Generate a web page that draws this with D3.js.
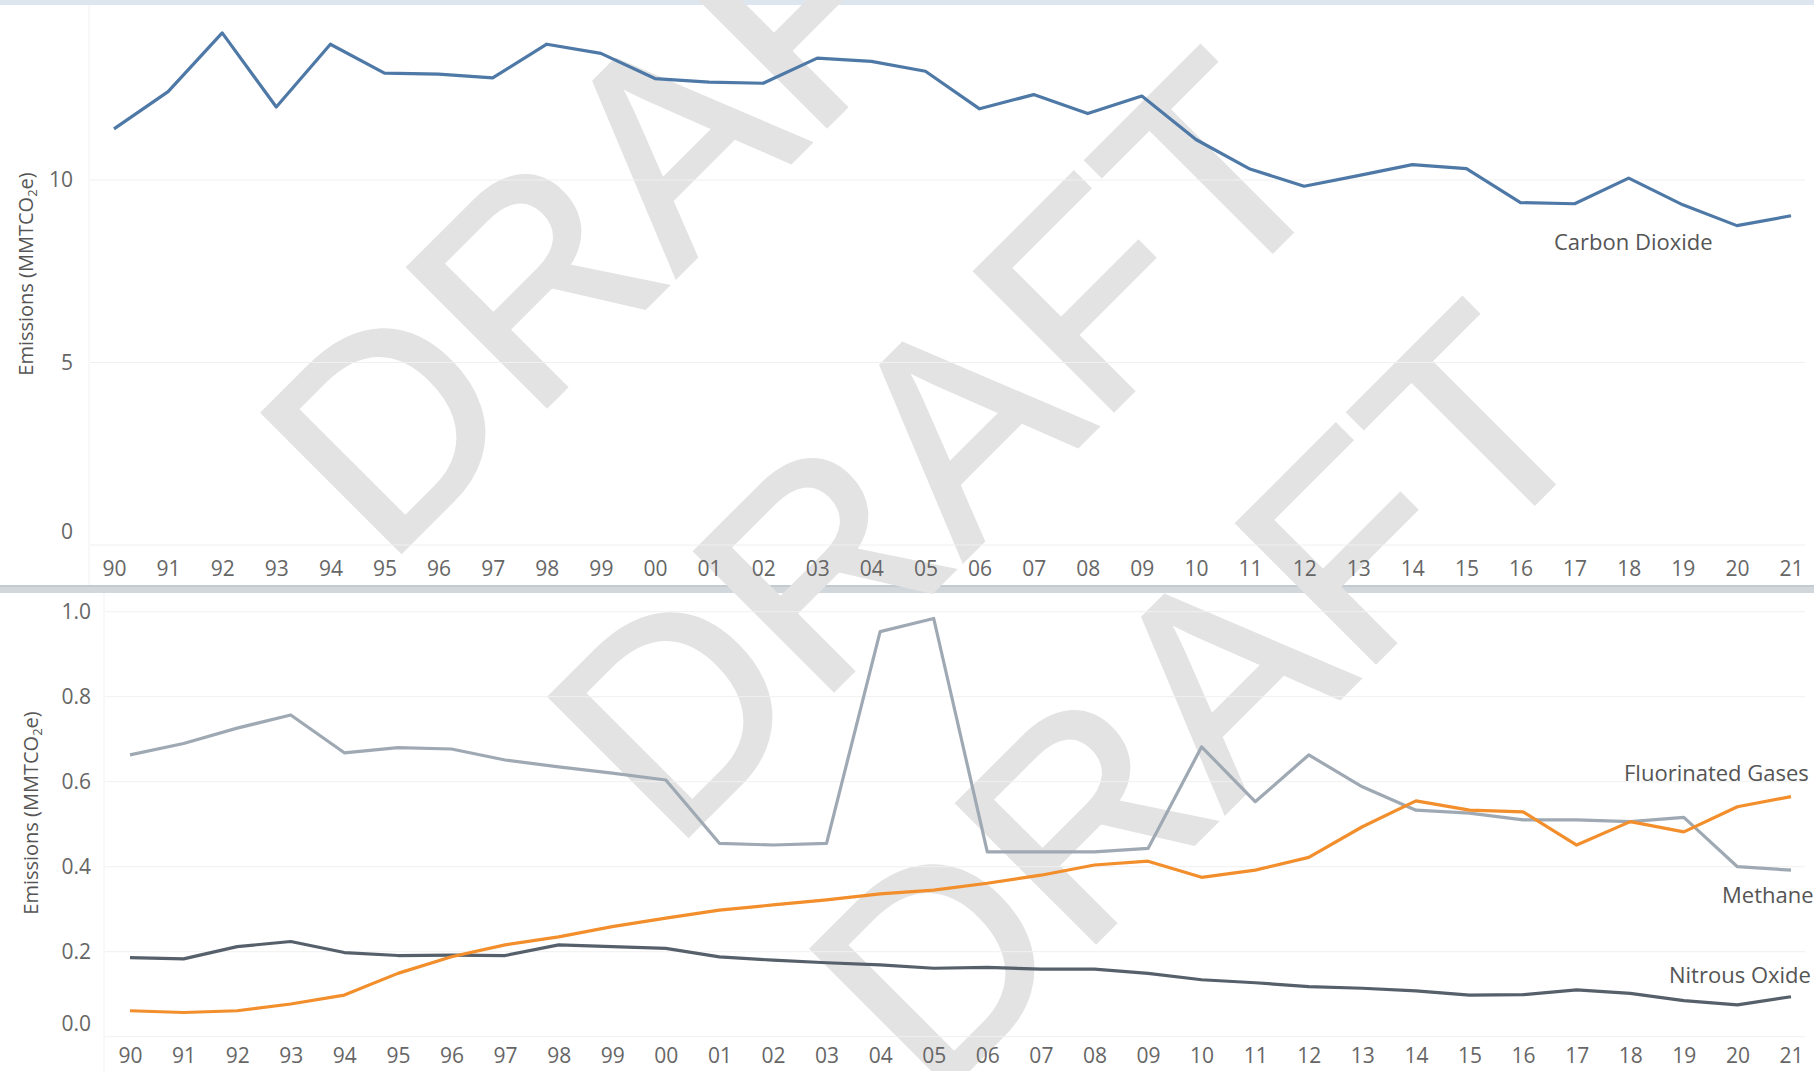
<!DOCTYPE html>
<html>
<head>
<meta charset="utf-8">
<script src="https://cdn.jsdelivr.net/npm/d3@7"></script>
<style>
  body { margin: 0; background: #fff; }
  svg { display: block; font-family: "Open Sans", "Noto Sans", sans-serif; }
</style>
</head>
<body>
<div id="chart"></div>
<script>
// years on the x axis (two digit labels)
const years = ['90','91','92','93','94','95','96','97','98','99','00','01','02','03','04','05',
               '06','07','08','09','10','11','12','13','14','15','16','17','18','19','20','21']

// top panel
const co2 = [11.40,12.42,14.03,12.00,13.72,12.93,12.90,12.80,13.72,13.47,12.78,12.68,12.65,13.34,13.25,12.98,
             11.95,12.34,11.82,12.30,11.11,10.30,9.83,10.12,10.42,10.31,9.38,9.35,10.05,9.32,8.75,9.02]
const topTicks = [0, 5, 10]

// bottom panel
const methane = [0.663,0.690,0.726,0.757,0.668,0.680,0.677,0.651,0.635,0.620,0.604,0.455,0.451,0.455,0.953,0.984,
                 0.435,0.435,0.435,0.443,0.682,0.553,0.663,0.588,0.533,0.526,0.510,0.510,0.506,0.516,0.400,0.392]
const fgas = [0.061,0.057,0.061,0.077,0.098,0.149,0.188,0.216,0.235,0.259,0.279,0.298,0.310,0.322,0.336,0.345,
              0.361,0.380,0.404,0.413,0.375,0.392,0.422,0.494,0.555,0.533,0.529,0.451,0.506,0.482,0.541,0.565]
const n2o = [0.186,0.183,0.212,0.224,0.198,0.191,0.192,0.191,0.216,0.212,0.208,0.188,0.180,0.174,0.169,0.161,
             0.163,0.159,0.159,0.149,0.134,0.127,0.118,0.114,0.108,0.098,0.099,0.110,0.102,0.085,0.075,0.094]
const bottomTicks = [0, 0.2, 0.4, 0.6, 0.8, 1.0]

const width = 1814, height = 1071
const tickFont = 21, labelFont = 22

const svg = d3.select("#chart").append("svg")
    .attr("width", width)
    .attr("height", height)

// panel frames
svg.append("rect").attr("x", 0).attr("y", 0).attr("width", width).attr("height", 5).attr("fill", "#dde6ee")
svg.append("rect").attr("x", 0).attr("y", 585).attr("width", width).attr("height", 8).attr("fill", "#d2d7db")
svg.append("rect").attr("x", 0).attr("y", 585).attr("width", width).attr("height", 2).attr("fill", "#c3cad0")
svg.append("line").attr("x1", 89).attr("x2", 89).attr("y1", 5).attr("y2", 585).attr("stroke", "#f1f1f1")
svg.append("line").attr("x1", 104).attr("x2", 104).attr("y1", 593).attr("y2", height).attr("stroke", "#f1f1f1")

// DRAFT watermarks, behind everything else
const wm = svg.append("g")
const wmAnchors = [[385, 568], [672, 852], [934, 1104]]
wm.selectAll("text")
    .data(wmAnchors)
    .join("text")
    .attr("transform", d => `translate(${d[0]},${d[1]}) rotate(-45)`)
    .attr("font-family", "Liberation Sans, Arial, sans-serif")
    .attr("font-size", 285)
    .attr("fill", "#e3e3e3")
    .attr("stroke", "#e3e3e3")
    .attr("stroke-width", 4)
    .text("DRAFT")

function styleAxis(g) {
    g.select(".domain").remove()
    g.selectAll("text").attr("font-size", tickFont).attr("fill", "#666").attr("font-family", "Open Sans, sans-serif")
}

function axisTitle(g, x, y) {
    g.append("text")
        .attr("transform", `translate(${x},${y}) rotate(-90)`)
        .attr("text-anchor", "middle")
        .attr("font-size", 20).attr("fill", "#555")
        .call(t => {
            t.append("tspan").text("Emissions (MMTCO")
            t.append("tspan").attr("font-size", 13).attr("dy", 4).text("2")
            t.append("tspan").attr("dy", -4).text("e)")
        })
}

// ---------- top panel ----------
const xTop = d3.scalePoint().domain(years).range([114, 1791])
const yTop = d3.scaleLinear().domain([0, 10]).range([545, 180])

const gTop = svg.append("g")

gTop.append("g")
    .selectAll("line")
    .data(topTicks)
    .join("line")
    .attr("x1", 90).attr("x2", 1805)
    .attr("y1", d => yTop(d)).attr("y2", d => yTop(d))
    .attr("stroke", "#f0f0f0")

const yAxisTop = gTop.append("g")
    .attr("transform", "translate(73,0)")
    .call(d3.axisLeft(yTop).tickValues(topTicks).tickSize(0).tickPadding(0).tickFormat(d3.format("d")))
styleAxis(yAxisTop)
yAxisTop.selectAll(".tick").filter(d => d === 0).select("text").attr("dy", "-0.3em")

const xAxisTop = gTop.append("g")
    .attr("transform", "translate(0,561)")
    .call(d3.axisBottom(xTop).tickSize(0).tickPadding(0))
styleAxis(xAxisTop)

const lineTop = d3.line().x((d, i) => xTop(years[i])).y(d => yTop(d))
gTop.append("path")
    .datum(co2)
    .attr("d", lineTop)
    .attr("fill", "none")
    .attr("stroke", "#4e79a7")
    .attr("stroke-width", 3.2)
    .attr("stroke-linejoin", "round")

gTop.append("text")
    .attr("x", 1554).attr("y", 250)
    .attr("font-size", labelFont).attr("fill", "#555")
    .text("Carbon Dioxide")

axisTitle(gTop, 33, 274)

// ---------- bottom panel ----------
const xBot = d3.scalePoint().domain(years).range([130, 1791])
const yBot = d3.scaleLinear().domain([0, 1]).range([1036.7, 611.7])

const gBot = svg.append("g")

gBot.append("g")
    .selectAll("line")
    .data(bottomTicks)
    .join("line")
    .attr("x1", 105).attr("x2", 1805)
    .attr("y1", d => yBot(d)).attr("y2", d => yBot(d))
    .attr("stroke", "#f0f0f0")

const yAxisBot = gBot.append("g")
    .attr("transform", "translate(91,0)")
    .call(d3.axisLeft(yBot).tickValues(bottomTicks).tickSize(0).tickPadding(0).tickFormat(d3.format(".1f")))
styleAxis(yAxisBot)
yAxisBot.selectAll(".tick").filter(d => d === 0).select("text").attr("dy", "-0.3em")

const xAxisBot = gBot.append("g")
    .attr("transform", "translate(0,1048)")
    .call(d3.axisBottom(xBot).tickSize(0).tickPadding(0))
styleAxis(xAxisBot)

const lineBot = d3.line().x((d, i) => xBot(years[i])).y(d => yBot(d))
const series = [
    {name: "Methane", values: methane, color: "#9fa9b3"},
    {name: "Nitrous Oxide", values: n2o, color: "#56606b"},
    {name: "Fluorinated Gases", values: fgas, color: "#f28e2b"}
]
gBot.selectAll("path.series")
    .data(series)
    .join("path")
    .attr("class", "series")
    .attr("d", d => lineBot(d.values))
    .attr("fill", "none")
    .attr("stroke", d => d.color)
    .attr("stroke-width", 3.2)
    .attr("stroke-linejoin", "round")

const labels = [
    {text: "Fluorinated Gases", x: 1624, y: 781},
    {text: "Methane", x: 1722, y: 903},
    {text: "Nitrous Oxide", x: 1669, y: 983}
]
gBot.selectAll("text.lbl")
    .data(labels)
    .join("text")
    .attr("class", "lbl")
    .attr("x", d => d.x).attr("y", d => d.y)
    .attr("font-size", labelFont).attr("fill", "#555")
    .text(d => d.text)

axisTitle(gBot, 38, 813)
</script>
</body>
</html>
